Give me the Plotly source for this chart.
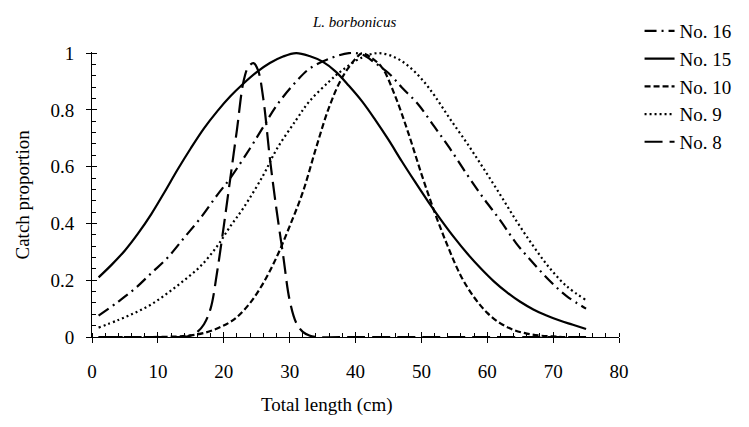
import plotly.graph_objects as go

# Series data (x = total length in cm, y = catch proportion)
x16 = [1, 4, 6.5, 9, 11.5, 14, 16.5, 19, 21, 24, 26, 28, 31, 33, 36, 39, 41, 43, 45, 47, 49.5, 52, 54.3, 57, 59.4, 62, 64.4, 67, 69.4, 72, 75]
y16 = [0.075, 0.125, 0.17, 0.225, 0.28, 0.35, 0.42, 0.50, 0.56, 0.665, 0.74, 0.815, 0.90, 0.945, 0.98, 1.0, 0.995, 0.965, 0.93, 0.88, 0.82, 0.74, 0.665, 0.57, 0.49, 0.41, 0.33, 0.26, 0.20, 0.145, 0.10]

x15 = [1, 3, 5, 7, 9, 11, 13, 15, 17, 19, 21, 23, 25, 27, 29, 31, 33, 35, 37, 39, 41, 43, 45, 47, 49, 51, 53, 55, 57, 59, 61, 63, 65, 67, 69, 71, 73, 75]
y15 = [0.21, 0.255, 0.305, 0.365, 0.433, 0.51, 0.59, 0.665, 0.735, 0.795, 0.848, 0.893, 0.933, 0.965, 0.988, 1.0, 0.99, 0.97, 0.935, 0.885, 0.83, 0.765, 0.695, 0.62, 0.548, 0.478, 0.412, 0.35, 0.293, 0.242, 0.196, 0.157, 0.124, 0.097, 0.076, 0.058, 0.043, 0.028]

x10 = [1, 5, 9, 13, 15, 17, 19, 20.7, 22, 24, 26, 28, 30, 32, 34, 36, 38, 40, 41, 42, 44, 46, 48, 50, 52, 54, 56, 58, 60, 62, 64, 66, 68, 70, 72, 75]
y10 = [0.0, 0.0, 0.0, 0.002, 0.006, 0.014, 0.03, 0.049, 0.07, 0.12, 0.19, 0.28, 0.39, 0.51, 0.665, 0.81, 0.915, 0.98, 1.0, 0.99, 0.95, 0.85, 0.72, 0.575, 0.44, 0.32, 0.215, 0.14, 0.085, 0.048, 0.025, 0.012, 0.005, 0.002, 0.0, 0.0]

x9 = [1, 4, 6.5, 9, 11.5, 14, 16.5, 19, 21, 23, 26, 28, 31, 33, 36, 38, 41, 43.5, 46, 48, 50, 52, 54.3, 57, 59.4, 62, 64.4, 67, 69.4, 72, 75]
y9 = [0.033, 0.06, 0.085, 0.115, 0.155, 0.20, 0.25, 0.32, 0.39, 0.455, 0.57, 0.66, 0.765, 0.83, 0.90, 0.94, 0.985, 1.0, 0.985, 0.955, 0.91, 0.85, 0.77, 0.68, 0.595, 0.50, 0.41, 0.32, 0.245, 0.18, 0.13]

x8 = [1, 5, 10, 13, 14, 15, 16, 17, 18, 19, 20, 21, 22, 23, 23.7, 24.5, 25.2, 26, 27, 28, 29, 30, 31, 32, 33, 34, 40, 50, 60, 70, 75]
y8 = [0.0, 0.0, 0.0, 0.0, 0.0, 0.005, 0.018, 0.045, 0.10, 0.23, 0.39, 0.56, 0.73, 0.90, 0.95, 0.965, 0.94, 0.84, 0.63, 0.45, 0.29, 0.13, 0.05, 0.018, 0.005, 0.0, 0.0, 0.0, 0.0, 0.0, 0.0]

series = [
    ("No. 16", x16, y16, "12px,5px,2px,5px"),
    ("No. 15", x15, y15, "solid"),
    ("No. 10", x10, y10, "6px,3px"),
    ("No. 9", x9, y9, "2px,3px"),
    ("No. 8", x8, y8, "18px,7px"),
]

x_ticks = [0, 10, 20, 30, 40, 50, 60, 70, 80]
y_ticks = [0, 0.2, 0.4, 0.6, 0.8, 1]
y_tick_labels = ["0", "0.2", "0.4", "0.6", "0.8", "1"]

FONT = "Liberation Serif, Times New Roman, serif"

fig = go.Figure()
for name, xs, ys, dash in series:
    fig.add_trace(go.Scatter(
        x=xs, y=ys, name=name, mode="lines",
        line=dict(color="black", width=2.2, dash=dash, shape="spline", smoothing=1.0),
    ))

# dummy traces for overlay axes (inside halves of the crossing major ticks)
fig.add_trace(go.Scatter(x=[None], y=[None], xaxis="x2", yaxis="y", showlegend=False, hoverinfo="skip"))
fig.add_trace(go.Scatter(x=[None], y=[None], xaxis="x", yaxis="y2", showlegend=False, hoverinfo="skip"))

axis_common = dict(showgrid=False, zeroline=False, showline=True, linecolor="black", linewidth=1,
                   tickcolor="black", tickfont=dict(family=FONT, size=19, color="black"))

fig.update_layout(
    width=749, height=427,
    margin=dict(l=92, r=125, t=50, b=90),
    paper_bgcolor="white", plot_bgcolor="white",
    font=dict(family=FONT, color="black"),
    xaxis=dict(range=[0, 80], tickvals=x_ticks, ticks="outside", ticklen=5, ticklabelstandoff=12,
               minor=dict(dtick=2, ticks="inside", ticklen=4, tickcolor="black"),
               **axis_common),
    yaxis=dict(range=[0, 1.004], tickvals=y_ticks, ticktext=y_tick_labels, ticks="outside", ticklen=5,
               ticklabelstandoff=8,
               minor=dict(dtick=0.04, ticks="inside", ticklen=4, tickcolor="black"),
               **axis_common),
    xaxis2=dict(overlaying="x", anchor="y", side="bottom", range=[0, 80], tickvals=x_ticks,
                ticks="inside", ticklen=5, tickcolor="black", showticklabels=False,
                showgrid=False, zeroline=False, showline=False),
    yaxis2=dict(overlaying="y", anchor="x", side="left", range=[0, 1.004], tickvals=y_ticks,
                ticks="inside", ticklen=5, tickcolor="black", showticklabels=False,
                showgrid=False, zeroline=False, showline=False),
    legend=dict(x=1.039, y=1.14, xanchor="left", yanchor="top",
                font=dict(family=FONT, size=19, color="black"),
                bgcolor="rgba(0,0,0,0)", tracegroupgap=0),
    showlegend=True,
)

fig.add_annotation(text="<i>L. borbonicus</i>", xref="paper", yref="paper", x=0.498, y=1.105,
                   xanchor="center", yanchor="middle", showarrow=False,
                   font=dict(family=FONT, size=15, color="black"))
fig.add_annotation(text="Total length (cm)", xref="paper", yref="paper", x=0.445, y=0,
                   yshift=-68, xanchor="center", yanchor="middle", showarrow=False,
                   font=dict(family=FONT, size=19, color="black"))
fig.add_annotation(text="Catch proportion", xref="paper", yref="paper", x=0, y=0.5,
                   xshift=-70, textangle=-90, xanchor="center", yanchor="middle", showarrow=False,
                   font=dict(family=FONT, size=19, color="black"))

fig.write_html("out.html", config={"displayModeBar": False},
               post_script="document.body.style.margin='0';")
